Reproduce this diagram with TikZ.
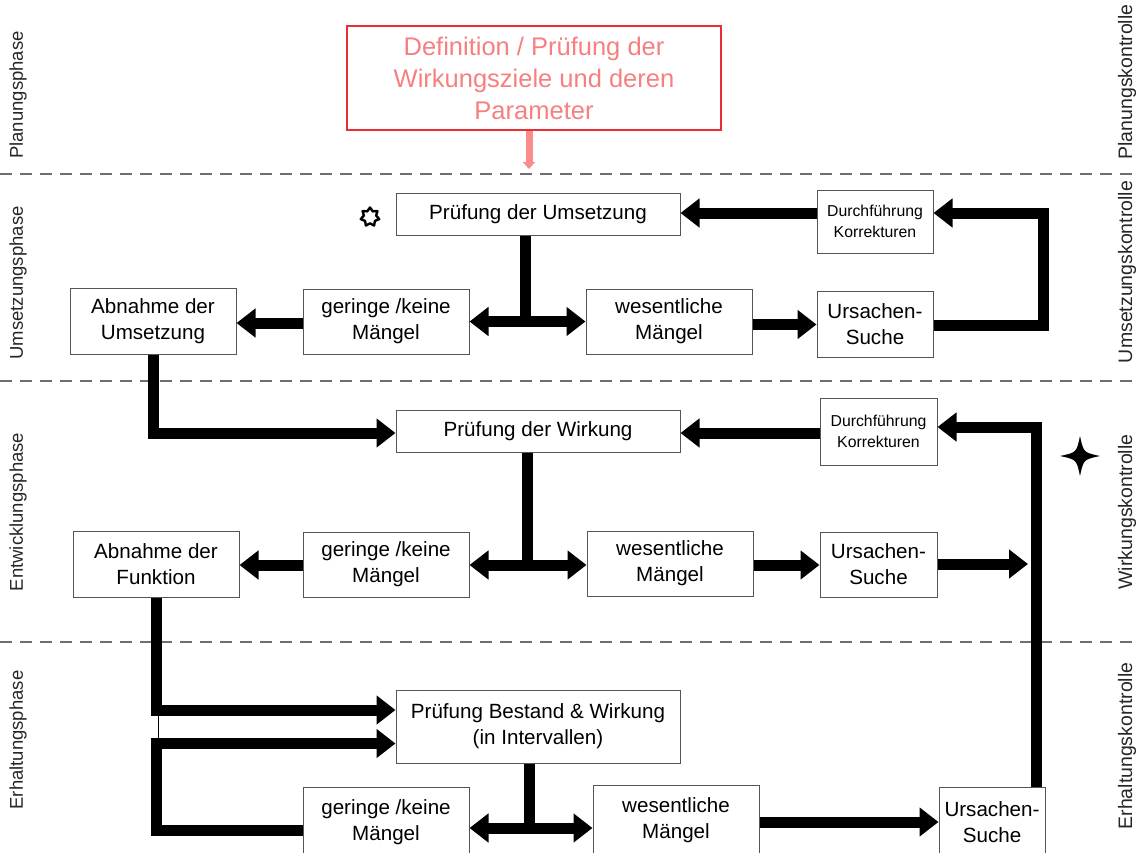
\documentclass[tikz,border=0pt]{standalone}
\usepackage{fontspec}
\setmainfont{Liberation Sans}
\usetikzlibrary{arrows.meta}
\definecolor{redborder}{RGB}{234,45,50}
\definecolor{pinktext}{RGB}{246,128,128}
\definecolor{pinkarrow}{RGB}{250,140,140}
\definecolor{boxgray}{RGB}{85,85,85}
\definecolor{sepgray}{RGB}{110,110,110}
\begin{document}
\begin{tikzpicture}[x=1pt,y=-1pt,
  box/.style={draw=boxgray, line width=1pt, fill=white, inner sep=0pt, align=center,
    font=\fontsize{20.6}{26}\selectfont},
  smallbox/.style={box, font=\fontsize{15.8}{21}\selectfont},
  lab/.style={rotate=90, font=\fontsize{18.5}{22}\selectfont, text=black!85},
  rlab/.style={rotate=90, font=\fontsize{19.5}{22}\selectfont, text=black!85},
  arrtip/.tip={Triangle[length=19pt,width=28pt]},
  arr/.style={line width=11pt, -arrtip},
  darr/.style={line width=11pt, arrtip-arrtip},
  ln/.style={line width=11pt},
  sepline/.style={draw=sepgray, line width=1.3pt, dash pattern=on 12pt off 8pt}
]
\useasboundingbox (0,0) rectangle (1140,852);
\clip (0,0) rectangle (1140,852);

% separators
\draw[sepline] (0,174) -- (1140,174);
\draw[sepline] (0,381) -- (1140,381);
\draw[sepline] (0,642) -- (1140,642);

% phase labels
\node[lab] (lp1) at (18,95) {Planungsphase};
\node[lab] (lp2) at (18,283) {Umsetzungsphase};
\node[lab] (lp3) at (18,512) {Entwicklungsphase};
\node[lab] (lp4) at (18,740) {Erhaltungsphase};
\node[rlab] (rk1) at (1127,82) {Planungskontrolle};
\node[rlab] (rk2) at (1127,272) {Umsetzungskontrolle};
\node[rlab] (rk3) at (1127,512) {Wirkungskontrolle};
\node[rlab] (rk4) at (1127,746) {Erhaltungskontrolle};

% title box
\node[draw=redborder, line width=1.5pt, minimum width=374pt, minimum height=104pt, inner sep=0pt,
  align=center, text=pinktext, font=\fontsize{25.5}{32}\selectfont] (def) at (534,78)
  {Definition / Prüfung der\\Wirkungsziele und deren\\Parameter};
\coordinate (pe) at (529,169);
\draw[line width=7pt, draw=pinkarrow, -{Triangle[length=7pt,width=12pt]}] (def.south -| pe) -- (pe);

% section 1
\node[box, minimum width=284pt, minimum height=42pt] (p1) at (538,214) {Prüfung der Umsetzung};
\node[smallbox, minimum width=116pt, minimum height=63pt] (d1) at (875,221.5) {Durchführung\\Korrekturen};
\node[box, minimum width=166pt, minimum height=66pt] (a1) at (153,321) {Abnahme der\\Umsetzung};
\node[box, minimum width=166pt, minimum height=65pt] (g1) at (386,321.5) {geringe /keine\\Mängel};
\node[box, minimum width=166pt, minimum height=65pt] (w1) at (669,321.5) {wesentliche\\Mängel};
\node[box, minimum width=116pt, minimum height=66pt] (u1) at (875,324) {Ursachen-\\Suche};

\draw[ln] ([xshift=-13pt]p1.south) -- ([xshift=-13pt]p1.south |- g1);
\draw[darr] (g1.east) -- (w1.west);
\draw[arr] (g1.west |- 0,323) -- (a1.east |- 0,323);
\draw[arr] ([yshift=-3pt]w1.east) -- ([yshift=-3pt]w1.east -| u1.west);
\coordinate (c1) at (1043,213);
\draw[arr] (u1.east |- 0,325) -| (c1) -- (c1 -| d1.east);
\draw[arr] (d1.west |- 0,213) -- (p1.east |- 0,213);

% 7-point star
\draw[line width=2.4pt, line join=round, shift={(370,217)}] (90:9.5pt)
  \foreach \a in {0,...,6}{ -- ({90+\a*360/7+360/14}:6.3pt) -- ({90+(\a+1)*360/7}:9.5pt) } -- cycle;

% section 2
\node[box, minimum width=284pt, minimum height=42pt] (p2) at (538,431) {Prüfung der Wirkung};
\node[smallbox, minimum width=117pt, minimum height=67pt] (d2) at (878.5,431.5) {Durchführung\\Korrekturen};
\node[box, minimum width=166pt, minimum height=66pt] (a2) at (156,564) {Abnahme der\\Funktion};
\node[box, minimum width=166pt, minimum height=65pt] (g2) at (386,564.5) {geringe /keine\\Mängel};
\node[box, minimum width=166pt, minimum height=65pt] (w2) at (670,563.5) {wesentliche\\Mängel};
\node[box, minimum width=117pt, minimum height=65pt] (u2) at (878.5,564.5) {Ursachen-\\Suche};

\draw[arr] (a1.south) |- ([yshift=-2pt]p2.west);
\draw[arr] (d2.west |- 0,433) -- (p2.east |- 0,433);
\draw[ln] ([xshift=-11pt]p2.south) -- ([xshift=-11pt]p2.south |- 0,565);
\draw[darr] (g2.east |- 0,565) -- (w2.west |- 0,565);
\draw[arr] (g2.west |- 0,565) -- (a2.east |- 0,565);
\draw[arr] (w2.east |- 0,565) -- (u2.west |- 0,565);
\coordinate (fe) at (1028,564);
\draw[arr] (u2.east |- fe) -- (fe);

% 4-point star
\fill[shift={(1080,456)}] (20pt,0pt) .. controls (3.5pt,3.5pt) .. (0pt,20pt)
  .. controls (-3.5pt,3.5pt) .. (-20pt,0pt) .. controls (-3.5pt,-3.5pt) .. (0pt,-20pt)
  .. controls (3.5pt,-3.5pt) .. (20pt,0pt) -- cycle;

% section 3
\node[box, minimum width=284pt, minimum height=73pt] (p3) at (538,726.5) {Prüfung Bestand \& Wirkung\\(in Intervallen)};
\node[box, minimum width=166pt, minimum height=70pt] (g3) at (386,822) {geringe /keine\\Mängel};
\node[box, minimum width=166pt, minimum height=70pt] (w3) at (676,820) {wesentliche\\Mängel};
\node[box, minimum width=106pt, minimum height=70pt] (u3) at (992,822) {Ursachen-\\Suche};

\draw[arr] (a2.south) |- (p3.west |- 0,710);
\coordinate (c3) at (156,743.5);
\draw[arr] (g3.west |- 0,830) -| (c3) -- (c3 -| p3.west);
\coordinate (t1) at (158,713);
\coordinate (t2) at (158,740);
\draw[line width=0.8pt] (t1) -- (t2);
\draw[ln] ([xshift=-9pt]p3.south) -- ([xshift=-9pt]p3.south |- 0,828);
\draw[darr] (g3.east |- 0,828) -- (w3.west |- 0,828);
\draw[arr] (w3.east |- 0,822) -- (u3.west |- 0,822);
\coordinate (c2) at (1036,427);
\draw[arr] (u3.north -| c2) -- (c2) -- (c2 -| d2.east);
\end{tikzpicture}
\end{document}
